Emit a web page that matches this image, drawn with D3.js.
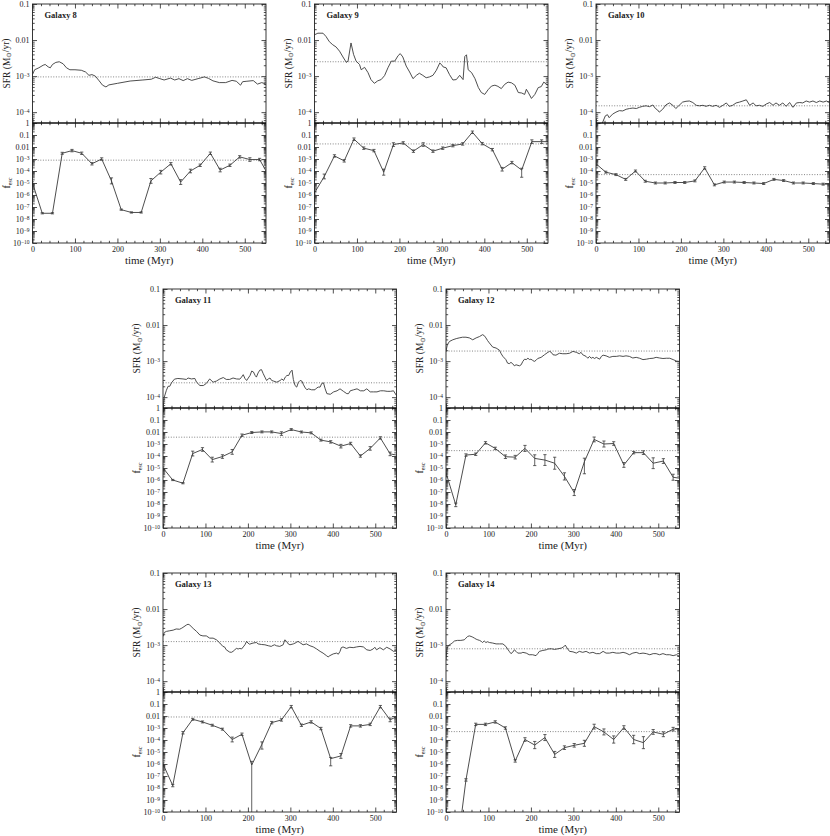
<!DOCTYPE html>
<meta charset="utf-8">
<script src="https://d3js.org/d3.v7.min.js"></script>
<style>
  body { margin: 0; background: #fff; }
  text { font-family: "Liberation Serif", "DejaVu Serif", serif; fill: #222; }
</style>
<body>
<script>

// ---- data ----
var galaxyNames = ["Galaxy 8", "Galaxy 9", "Galaxy 10", "Galaxy 11", "Galaxy 12", "Galaxy 13", "Galaxy 14"];

// f_esc snapshot times (Myr)
var fescTimes = [0,23,47,70,93,116,140,163,186,209,233,256,279,302,326,349,372,395,419,442,465,488,512,535,550];

// time-averaged values (dotted lines)
var sfrMean  = [9.5e-4, 2.5e-3, 1.5e-4, 2.5e-4, 1.9e-3, 1.25e-3, 7.9e-4];
var fescMean = [8e-4, 0.018, 5e-5, 3.7e-3, 2.8e-4, 8.3e-3, 5e-4];

// SFR (Msun/yr) as [time, value]
var sfr8 = [[0,1.1e-3],[5,1.5e-3],[15,1.7e-3],[25,2e-3],[30,2.1e-3],[37,1.8e-3],[42,1.7e-3],[47,2.1e-3],[55,2.4e-3],[63,2.5e-3],[72,2.2e-3],[80,1.7e-3],[88,1.5e-3],[100,1.5e-3],[115,1.45e-3],[125,1.3e-3],[133,1.05e-3],[140,1.1e-3],[148,1e-3],[157,7.4e-4],[165,5.6e-4],[173,5e-4],[180,5.7e-4],[200,6.3e-4],[230,7.3e-4],[260,7.8e-4],[280,8.2e-4],[290,9.3e-4],[300,8.5e-4],[310,7.8e-4],[325,8.8e-4],[335,7.8e-4],[345,8.5e-4],[355,7.5e-4],[365,8.5e-4],[375,7.6e-4],[390,8.5e-4],[405,9.5e-4],[415,8.6e-4],[425,7.4e-4],[440,6.6e-4],[455,6.6e-4],[470,7.6e-4],[480,7.2e-4],[490,5.6e-4],[495,7e-4],[505,7.2e-4],[520,7.5e-4],[530,6e-4],[540,6.6e-4],[550,6e-4]];
var sfr9 = [[0,0.014],[8,0.0155],[20,0.0155],[27,0.0126],[35,9e-3],[43,7.4e-3],[51,6.4e-3],[59,4.9e-3],[67,3.4e-3],[75,2.4e-3],[79,2.6e-3],[86,8.3e-3],[92,4e-3],[98,2.6e-3],[106,2.1e-3],[110,1.5e-3],[118,1.75e-3],[126,1.25e-3],[133,8e-4],[141,6.3e-4],[149,7.4e-4],[157,8e-4],[165,1.03e-3],[173,1.7e-3],[181,2.6e-3],[189,2.6e-3],[197,3.7e-3],[202,4.2e-3],[208,3.4e-3],[216,1.9e-3],[224,1.3e-3],[232,8.5e-4],[240,1.05e-3],[247,1.2e-3],[255,1.05e-3],[263,9e-4],[271,9.5e-4],[279,1.05e-3],[287,1.45e-3],[295,2.3e-3],[299,2.1e-3],[303,1.8e-3],[310,1.7e-3],[318,1.1e-3],[326,7.8e-4],[334,8e-4],[342,1.05e-3],[350,8e-4],[354,3.5e-3],[358,3.9e-3],[362,1.5e-3],[370,1.25e-3],[378,8.5e-4],[386,4.8e-4],[393,3.5e-4],[401,3.1e-4],[409,4.2e-4],[417,5.3e-4],[425,5.6e-4],[432,5.2e-4],[440,4.5e-4],[448,5.9e-4],[456,6.8e-4],[464,6.5e-4],[472,5.6e-4],[480,3.5e-4],[488,3.4e-4],[495,3.1e-4],[499,4.3e-4],[503,3.6e-4],[511,2.4e-4],[519,3.1e-4],[527,4.8e-4],[534,5.1e-4],[540,6.8e-4],[550,5.6e-4]];
var sfr10 = [[10,3e-5],[15,5e-5],[22,7.9e-5],[27,8.5e-5],[31,7e-5],[39,8.8e-5],[47,1e-4],[55,1.1e-4],[63,1.08e-4],[71,1.2e-4],[79,1.26e-4],[87,1.3e-4],[95,1.26e-4],[102,1.36e-4],[110,1.45e-4],[118,1.5e-4],[126,1.42e-4],[134,1.58e-4],[140,1.26e-4],[145,1.15e-4],[149,1e-4],[157,1.2e-4],[165,1.6e-4],[173,1.8e-4],[181,1.55e-4],[188,1.26e-4],[196,1.55e-4],[204,1.9e-4],[212,2e-4],[220,2.04e-4],[228,1.85e-4],[236,1.55e-4],[244,1.5e-4],[252,1.55e-4],[259,1.45e-4],[267,1.55e-4],[275,1.45e-4],[283,1.55e-4],[291,1.36e-4],[299,1.55e-4],[307,1.8e-4],[314,1.45e-4],[322,1.55e-4],[330,1.8e-4],[338,1.9e-4],[346,2.04e-4],[354,2.2e-4],[362,1.55e-4],[370,1.8e-4],[377,1.5e-4],[385,1.55e-4],[393,1.45e-4],[401,1.68e-4],[409,1.85e-4],[417,1.55e-4],[424,1.8e-4],[432,1.55e-4],[440,1.8e-4],[448,1.45e-4],[456,1.85e-4],[464,1.36e-4],[472,1.8e-4],[480,1.85e-4],[487,1.8e-4],[495,2.04e-4],[503,1.9e-4],[511,2.04e-4],[519,1.85e-4],[527,2.04e-4],[535,1.9e-4],[543,2.04e-4],[550,1.85e-4]];
var sfr11 = [[0,5e-5],[3,1e-4],[8,1.55e-4],[12,2e-4],[16,2e-4],[20,2.5e-4],[27,3.16e-4],[35,3.3e-4],[47,3.2e-4],[55,3.1e-4],[59,3.4e-4],[67,3.2e-4],[75,3.3e-4],[79,2.6e-4],[87,2.1e-4],[95,2.1e-4],[102,2.4e-4],[110,3.2e-4],[118,2.6e-4],[126,2.8e-4],[134,3.2e-4],[142,3.5e-4],[149,3.1e-4],[157,3.1e-4],[165,3.4e-4],[173,3.2e-4],[181,3.16e-4],[185,3.6e-4],[189,4.2e-4],[193,3.3e-4],[197,2.9e-4],[205,4e-4],[209,5.3e-4],[213,5e-4],[217,4e-4],[220,3.6e-4],[224,4.7e-4],[228,5.6e-4],[232,5.8e-4],[236,4.5e-4],[240,3.6e-4],[244,2.9e-4],[248,3.2e-4],[252,3.4e-4],[256,2.9e-4],[260,2.8e-4],[268,2.6e-4],[276,2.9e-4],[280,3.2e-4],[284,2.9e-4],[288,3.6e-4],[292,4e-4],[296,4e-4],[300,5e-4],[304,5.6e-4],[307,3.1e-4],[311,2.1e-4],[315,1.9e-4],[319,2.6e-4],[323,2.9e-4],[327,2.8e-4],[331,2.2e-4],[335,1.8e-4],[339,1.6e-4],[343,1.7e-4],[350,1.6e-4],[358,1.6e-4],[362,1.8e-4],[366,1.9e-4],[370,1.9e-4],[374,2.4e-4],[378,2.5e-4],[382,1.7e-4],[386,1.25e-4],[394,1.2e-4],[402,1.4e-4],[410,1.5e-4],[417,1.7e-4],[425,1.45e-4],[433,1.25e-4],[437,1.25e-4],[441,1.5e-4],[449,1.6e-4],[457,1.7e-4],[465,1.5e-4],[473,1.5e-4],[480,1.7e-4],[488,1.4e-4],[496,1.4e-4],[504,1.4e-4],[512,1.5e-4],[520,1.5e-4],[528,1.45e-4],[536,1.45e-4],[543,1.5e-4],[550,1.1e-4]];
var sfr12 = [[0,1.86e-3],[3,2.8e-3],[8,3.5e-3],[16,3.9e-3],[24,4.2e-3],[31,4.4e-3],[39,4.6e-3],[47,4.6e-3],[55,4.4e-3],[63,3.9e-3],[71,4.4e-3],[79,4.8e-3],[86,5.4e-3],[90,5.1e-3],[94,4.4e-3],[98,3.7e-3],[102,3.2e-3],[110,2.45e-3],[118,2.3e-3],[126,2e-3],[130,1.6e-3],[134,1.35e-3],[141,1.1e-3],[145,8.8e-4],[149,8.5e-4],[153,9.2e-4],[157,8.5e-4],[161,7.4e-4],[165,7.9e-4],[173,7.4e-4],[177,7.9e-4],[181,9.8e-4],[185,1.13e-3],[189,1.1e-3],[193,1.2e-3],[197,1.1e-3],[200,1.13e-3],[204,1.05e-3],[208,9.8e-4],[212,1.05e-3],[216,1.18e-3],[224,1.27e-3],[232,1.5e-3],[240,1.75e-3],[244,1.86e-3],[248,1.75e-3],[252,1.5e-3],[259,1.46e-3],[267,1.65e-3],[275,1.6e-3],[283,1.6e-3],[291,1.65e-3],[299,1.86e-3],[307,1.75e-3],[314,1.6e-3],[318,1.75e-3],[322,1.5e-3],[330,1.35e-3],[334,1.2e-3],[338,1.35e-3],[342,1.2e-3],[346,1.27e-3],[350,1.18e-3],[354,1.27e-3],[362,1.13e-3],[366,1.35e-3],[370,1.46e-3],[377,1.4e-3],[385,1.27e-3],[393,1.35e-3],[401,1.35e-3],[409,1.4e-3],[417,1.35e-3],[424,1.4e-3],[432,1.35e-3],[440,1.22e-3],[448,1.27e-3],[456,1.2e-3],[464,1.1e-3],[472,1.13e-3],[480,1.18e-3],[488,1.2e-3],[495,1.27e-3],[503,1.22e-3],[511,1.18e-3],[519,1.2e-3],[527,1.2e-3],[535,1.1e-3],[543,1e-3],[550,9.8e-4]];
var sfr13 = [[0,1.74e-3],[3,2.24e-3],[8,2.4e-3],[16,2.5e-3],[24,2.6e-3],[31,2.8e-3],[39,2.75e-3],[43,2.9e-3],[47,3.1e-3],[55,3.6e-3],[59,3.8e-3],[63,3.6e-3],[71,2.9e-3],[79,2.4e-3],[87,1.9e-3],[94,1.8e-3],[102,1.8e-3],[110,1.56e-3],[118,1.56e-3],[126,1.4e-3],[134,1.14e-3],[141,9.2e-4],[145,8.9e-4],[149,7.4e-4],[157,6.4e-4],[161,6.3e-4],[165,6.7e-4],[169,7.4e-4],[173,8.1e-4],[177,7.8e-4],[181,8.1e-4],[185,7.8e-4],[189,8.9e-4],[193,1.02e-3],[197,1.27e-3],[200,1.14e-3],[204,1.06e-3],[212,1.14e-3],[220,1.18e-3],[224,1.08e-3],[232,1.04e-3],[240,1.02e-3],[248,9.6e-4],[255,9.2e-4],[259,9.8e-4],[263,1.02e-3],[267,9.6e-4],[275,9.2e-4],[283,1.02e-3],[287,1.4e-3],[291,1.27e-3],[295,1.08e-3],[299,1.02e-3],[307,1.08e-3],[314,1.18e-3],[318,1.27e-3],[322,1.18e-3],[330,1.02e-3],[338,1.08e-3],[346,9.6e-4],[354,8.9e-4],[362,7.8e-4],[370,6.7e-4],[377,6e-4],[385,5.1e-4],[389,4.7e-4],[393,5.1e-4],[401,5.7e-4],[409,6e-4],[413,5.6e-4],[417,6.7e-4],[420,8.5e-4],[424,8.9e-4],[432,8.1e-4],[440,8.7e-4],[448,8.5e-4],[456,8.9e-4],[464,9.2e-4],[472,8.9e-4],[480,7.4e-4],[488,7.1e-4],[495,7.8e-4],[499,8.7e-4],[503,7.4e-4],[511,8.5e-4],[519,7.4e-4],[527,8.7e-4],[535,7.8e-4],[543,6.7e-4],[550,7.4e-4]];
var sfr14 = [[0,3.9e-4],[2,7.4e-4],[5,9.6e-4],[8,1.02e-3],[12,1.08e-3],[16,1.18e-3],[20,1.3e-3],[27,1.35e-3],[35,1.35e-3],[43,1.4e-3],[47,1.56e-3],[51,1.74e-3],[55,1.8e-3],[59,1.74e-3],[63,1.66e-3],[67,1.56e-3],[71,1.46e-3],[75,1.4e-3],[79,1.35e-3],[83,1.27e-3],[86,1.18e-3],[90,1.3e-3],[94,1.18e-3],[98,1.24e-3],[102,1.18e-3],[110,1.14e-3],[118,1.08e-3],[126,1.08e-3],[134,1.08e-3],[141,9.2e-4],[145,7.8e-4],[149,6.7e-4],[153,5.8e-4],[157,6.3e-4],[161,7.4e-4],[165,6.7e-4],[169,6e-4],[177,6e-4],[181,6.3e-4],[189,6e-4],[196,5.4e-4],[204,5.4e-4],[212,5.1e-4],[216,5.8e-4],[220,6.7e-4],[228,7.1e-4],[236,7.4e-4],[240,7.8e-4],[248,7.9e-4],[256,7.6e-4],[264,7.9e-4],[272,8.3e-4],[277,8.9e-4],[281,1.0e-3],[285,8.3e-4],[291,6.7e-4],[299,6.5e-4],[307,6e-4],[314,6.7e-4],[322,6.3e-4],[330,6.7e-4],[338,6e-4],[346,6.3e-4],[354,5.8e-4],[362,5.8e-4],[370,6.7e-4],[377,6e-4],[385,6e-4],[393,6.3e-4],[401,6e-4],[409,6e-4],[417,6.3e-4],[424,6e-4],[432,5.4e-4],[440,6e-4],[448,6.3e-4],[456,5.8e-4],[464,6e-4],[472,5.8e-4],[480,5.4e-4],[488,5.8e-4],[495,5.8e-4],[503,5.4e-4],[511,5.8e-4],[519,5.4e-4],[527,5.4e-4],[535,5.1e-4],[543,5.4e-4],[550,4.9e-4]];

// escape fractions at fescTimes
var fesc8  = [1e-5,3e-8,3e-8,3e-3,5e-3,3e-3,4e-4,1e-3,1.5e-5,6e-8,3.5e-8,3.5e-8,1.5e-5,8e-5,4e-4,1.2e-5,1e-4,3e-4,3e-3,1.2e-4,3e-4,1.5e-3,9e-4,9e-4,1e-4];
var fesc9  = [1.5e-6,3.5e-5,1.8e-3,7e-4,0.045,8e-3,5e-3,8e-5,0.016,0.022,4.5e-3,0.016,4.5e-3,8e-3,0.013,0.018,0.17,0.019,6e-3,1.4e-4,5e-4,1.2e-4,0.028,0.028,0.028];
var fesc10 = [4e-4,8e-5,5e-5,2e-5,1e-4,1.4e-5,1e-5,1e-5,1.1e-5,1.1e-5,1.5e-5,1.8e-4,7e-6,1.2e-5,1.2e-5,1.1e-5,1e-5,9e-6,2e-5,1.6e-5,1e-5,1e-5,9e-6,8e-6,8e-6];
var fesc11 = [1e-5,1e-6,5.4e-7,1.6e-4,3.5e-4,5e-5,9e-5,2.2e-4,5.4e-3,9e-3,0.0102,0.0102,7.4e-3,0.016,0.01,8.5e-3,2.1e-3,1.5e-3,6.6e-4,1.1e-3,1e-4,4.3e-4,3.2e-3,1.5e-4,1.2e-4];
var fesc12 = [4e-6,8.5e-9,1.2e-4,1.4e-4,1.25e-3,4.3e-4,8.7e-5,8e-5,4.3e-4,6.3e-5,4.6e-5,2.5e-5,2e-6,9e-8,3.3e-5,2.4e-3,1e-3,1.1e-3,1.8e-5,1.9e-4,1.9e-4,2.5e-5,3.8e-5,1.7e-6,1.4e-6];
var fesc13 = [1e-6,1.6e-8,4e-4,5.3e-3,3.2e-3,1.7e-3,8e-4,1.1e-4,3e-4,8.3e-7,4.4e-5,2.8e-3,4.7e-3,0.06,1.7e-3,3.2e-3,9e-4,2.8e-6,4.7e-6,1.5e-3,1.5e-3,2e-3,0.06,4.7e-3,9e-3];
var fesc14 = [1e-14,1e-14,4.7e-8,2e-3,2e-3,3.2e-3,1e-3,1.8e-6,1.1e-4,3.8e-5,1.6e-4,6.3e-6,2.3e-5,3.6e-5,5.3e-5,1.3e-3,4.7e-4,1.1e-4,1.1e-3,1.1e-4,6e-5,4.7e-4,3e-4,8e-4,8.5e-4];

// error bars in dex: a number (symmetric) or [down, up]
var fescErr8  = [0.1,0.05,0.05,0.08,0.1,0.1,0.1,0.1,0.25,0.05,0.05,0.05,0.2,0.15,0.1,0.2,0.15,0.1,0.1,0.15,0.1,0.1,0.15,0.1,0];
var fescErr9  = [0.1,0.2,0.1,0.1,0.1,0.1,0.1,0.25,0.15,0.1,0.1,0.15,0.1,0.1,0.1,0.1,0.1,0.1,0.1,0.15,0.1,[0.6,0.15],0.15,0.15,0];
var fescErr10 = [0.15,0.08,0.08,0.08,0.08,0.08,0.08,0.08,0.08,0.08,0.08,0.1,0.08,0.08,0.08,0.08,0.08,0.08,0.08,0.08,0.08,0.08,0.08,0.08,0];
var fescErr11 = [0.1,0.05,0.05,0.2,0.15,0.2,0.15,0.2,0.1,0.08,0.08,0.08,0.15,0.08,0.08,0.08,0.08,0.1,0.15,0.1,0.1,0.15,0.1,0.15,0];
var fescErr12 = [0.3,0.15,0.1,0.1,0.1,0.1,0.15,0.15,0.25,[0.6,0.3],0.45,0.5,0.3,0.25,[1.0,0.3],0.2,0.25,0.15,0.2,0.1,0.15,0.45,0.2,0.25,0];
var fescErr13 = [0.1,0.1,0.1,0.08,0.08,0.08,0.08,0.2,0.1,[4,0.3],[0.4,0.2],0.1,0.1,0.1,0.1,0.1,0.1,[0.6,0.1],0.2,0.1,0.1,0.1,0.1,0.15,0];
var fescErr14 = [0,0,0.1,0.1,0.1,0.1,0.1,0.1,0.15,0.3,0.25,0.25,0.15,0.15,0.25,0.2,0.25,0.3,0.15,0.35,0.5,0.2,0.2,0.15,0];

var sfrList = [sfr8, sfr9, sfr10, sfr11, sfr12, sfr13, sfr14];
var fescList = [fesc8, fesc9, fesc10, fesc11, fesc12, fesc13, fesc14];
var errList = [fescErr8, fescErr9, fescErr10, fescErr11, fescErr12, fescErr13, fescErr14];

// ---- layout ----
var panelLeft = [32.5, 314.5, 596, 163, 446, 163, 446];
var panelTop  = [4, 4, 4, 289, 289, 573, 573];
var W = 233.5, H1 = 119, H2 = 120;
var lineColor = "#3a3a3a";

var svg = d3.select("body").append("svg")
    .attr("width", 830)
    .attr("height", 836);

function minorLog(lo, hi) {
  var v = [];
  for (var e = -12; e <= 1; e++)
    for (var k = 2; k <= 9; k++) {
      var t = k * Math.pow(10, e);
      if (t >= lo * 0.999 && t <= hi * 1.001) v.push(t);
    }
  return v;
}

// replace 10^n tick labels with real superscripts
function logLabels(sel) {
  sel.selectAll(".tick text").each(function(d) {
    var t = d3.select(this);
    if (d >= 0.01) { t.text(d >= 1 ? "1" : (d >= 0.1 ? "0.1" : "0.01")); return; }
    var e = Math.round(Math.log10(d));
    t.text("");
    t.append("tspan").text("10");
    t.append("tspan").attr("dy", "-0.45em").attr("font-size", "5.5px").text("\u2212" + (-e));
  });
}

function styleAxis(g) {
  g.select(".domain").remove();
  g.selectAll(".tick line").attr("stroke", "#222").attr("stroke-width", 0.8);
  g.selectAll(".tick text").attr("font-size", "8px").attr("fill", "#222")
    .attr("font-family", "Liberation Serif, DejaVu Serif, serif");
}

function drawPanel(i) {
  var left = panelLeft[i], top = panelTop[i];
  var mid = top + H1, bottom = top + H1 + H2;
  var g = svg.append("g");

  var x = d3.scaleLinear().domain([0, 550]).range([left, left + W]);
  var ys = d3.scaleLog().domain([5e-5, 0.1]).range([mid, top]);
  var yf = d3.scaleLog().domain([1e-10, 1]).range([bottom, mid]);

  // clip areas
  g.append("clipPath").attr("id", "cs" + i)
    .append("rect").attr("x", left).attr("y", top).attr("width", W).attr("height", H1);
  g.append("clipPath").attr("id", "cf" + i)
    .append("rect").attr("x", left).attr("y", mid).attr("width", W).attr("height", H2);

  var xMajor = [0, 100, 200, 300, 400, 500];
  var xMinor = d3.range(20, 550, 20).filter(function(v) { return v % 100 !== 0; });

  // x axes: bottom (labelled), boundary (both sides), top
  [[bottom, d3.axisBottom, true], [mid, d3.axisBottom, false], [mid, d3.axisTop, false], [top, d3.axisTop, false]]
    .forEach(function(a) {
      var ax = g.append("g").attr("transform", "translate(0," + a[0] + ")")
        .call(a[1](x).tickValues(xMajor).tickSizeInner(-4.5).tickSizeOuter(0).tickPadding(3)
          .tickFormat(a[2] ? d3.format("d") : ""));
      styleAxis(ax);
      var am = g.append("g").attr("transform", "translate(0," + a[0] + ")")
        .call(a[1](x).tickValues(xMinor).tickSizeInner(-2.2).tickSizeOuter(0).tickFormat(""));
      styleAxis(am);
    });

  // y axes, SFR
  var sfrMajor = [1e-4, 1e-3, 0.01, 0.1];
  var fescMajor = d3.range(-10, 1).map(function(e) { return Math.pow(10, e); });
  [[ys, sfrMajor, minorLog(5e-5, 0.1), true], [yf, fescMajor, minorLog(1e-10, 1), true]].forEach(function(a) {
    var l = g.append("g").attr("transform", "translate(" + left + ",0)")
      .call(d3.axisLeft(a[0]).tickValues(a[1]).tickSizeInner(-4.5).tickSizeOuter(0).tickPadding(3));
    styleAxis(l);
    logLabels(l);
    l.selectAll(".tick text").attr("dy", "0.35em");
    styleAxis(g.append("g").attr("transform", "translate(" + left + ",0)")
      .call(d3.axisLeft(a[0]).tickValues(a[2]).tickSizeInner(-2.2).tickSizeOuter(0).tickFormat("")));
    styleAxis(g.append("g").attr("transform", "translate(" + (left + W) + ",0)")
      .call(d3.axisRight(a[0]).tickValues(a[1]).tickSizeInner(-4.5).tickSizeOuter(0).tickFormat("")));
    styleAxis(g.append("g").attr("transform", "translate(" + (left + W) + ",0)")
      .call(d3.axisRight(a[0]).tickValues(a[2]).tickSizeInner(-2.2).tickSizeOuter(0).tickFormat("")));
  });

  // mean lines
  g.append("line")
    .attr("x1", left).attr("x2", left + W)
    .attr("y1", ys(sfrMean[i])).attr("y2", ys(sfrMean[i]))
    .attr("stroke", "#666").attr("stroke-width", 0.8).attr("stroke-dasharray", "1,1.6");
  g.append("line")
    .attr("x1", left).attr("x2", left + W)
    .attr("y1", yf(fescMean[i])).attr("y2", yf(fescMean[i]))
    .attr("stroke", "#666").attr("stroke-width", 0.8).attr("stroke-dasharray", "1,1.6");

  // SFR history
  g.append("path")
    .datum(sfrList[i])
    .attr("clip-path", "url(#cs" + i + ")")
    .attr("fill", "none").attr("stroke", lineColor).attr("stroke-width", 0.9)
    .attr("d", d3.line().x(function(d) { return x(d[0]); }).y(function(d) { return ys(d[1]); }));

  // f_esc with error bars
  var pts = fescTimes.map(function(t, k) {
    var e = errList[i][k];
    var dn = Array.isArray(e) ? e[0] : e, up = Array.isArray(e) ? e[1] : e;
    return { t: t, v: fescList[i][k], dn: dn, up: up };
  });
  var fg = g.append("g").attr("clip-path", "url(#cf" + i + ")");
  fg.append("path")
    .datum(pts)
    .attr("fill", "none").attr("stroke", lineColor).attr("stroke-width", 0.9)
    .attr("d", d3.line().x(function(d) { return x(d.t); }).y(function(d) { return yf(d.v); }));
  var eb = fg.selectAll(".eb").data(pts.filter(function(d) { return d.dn > 0 || d.up > 0; }))
    .enter().append("g").attr("class", "eb");
  eb.append("line")
    .attr("x1", function(d) { return x(d.t); }).attr("x2", function(d) { return x(d.t); })
    .attr("y1", function(d) { return yf(d.v / Math.pow(10, d.dn)); })
    .attr("y2", function(d) { return yf(d.v * Math.pow(10, d.up)); })
    .attr("stroke", lineColor).attr("stroke-width", 0.8);
  ["dn", "up"].forEach(function(s) {
    eb.append("line")
      .attr("x1", function(d) { return x(d.t) - 1.6; }).attr("x2", function(d) { return x(d.t) + 1.6; })
      .attr("y1", function(d) { return yf(s === "dn" ? d.v / Math.pow(10, d.dn) : d.v * Math.pow(10, d.up)); })
      .attr("y2", function(d) { return yf(s === "dn" ? d.v / Math.pow(10, d.dn) : d.v * Math.pow(10, d.up)); })
      .attr("stroke", lineColor).attr("stroke-width", 0.8);
  });

  // frames
  g.append("rect").attr("x", left).attr("y", top).attr("width", W).attr("height", H1 + H2)
    .attr("fill", "none").attr("stroke", "#222").attr("stroke-width", 0.9);
  g.append("line").attr("x1", left).attr("x2", left + W).attr("y1", mid).attr("y2", mid)
    .attr("stroke", "#111").attr("stroke-width", 1.4);

  // labels
  g.append("text").attr("x", left + 12).attr("y", top + 14)
    .attr("font-size", "8.5px").attr("font-weight", "bold").attr("fill", "#333")
    .text(galaxyNames[i]);

  g.append("text").attr("x", left + W / 2).attr("y", bottom + 20.5)
    .attr("text-anchor", "middle").attr("font-size", "11px")
    .text("time (Myr)");

  var sl = g.append("text")
    .attr("transform", "translate(" + (left - 23) + "," + (top + H1 / 2) + ") rotate(-90)")
    .attr("text-anchor", "middle").attr("font-size", "9.5px");
  sl.append("tspan").text("SFR (M");
  sl.append("tspan").attr("dy", "0.3em").attr("font-size", "6.5px")
    .attr("font-family", "DejaVu Sans, sans-serif").text("\u2299");
  sl.append("tspan").attr("dy", "-0.3em").text("/yr)");

  var fl = g.append("text")
    .attr("transform", "translate(" + (left - 23) + "," + (mid + H2 / 2) + ") rotate(-90)")
    .attr("text-anchor", "middle").attr("font-size", "10px");
  fl.append("tspan").text("f");
  fl.append("tspan").attr("dy", "0.35em").attr("font-size", "6px").text("esc");
}

for (var i = 0; i < galaxyNames.length; i++) drawPanel(i);

</script>
</body>
